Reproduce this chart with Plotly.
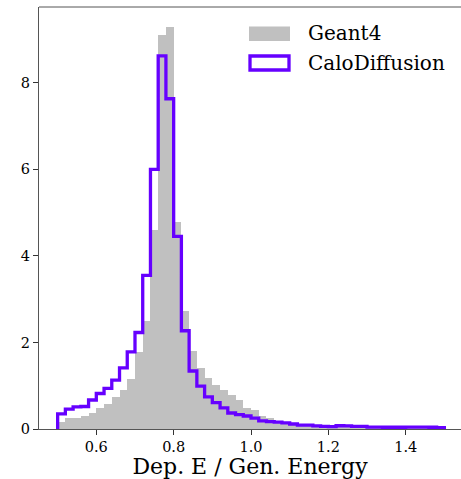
import numpy as np
import plotly.graph_objects as go

# Bin edges: 50 bins of width 0.02 from 0.5 to 1.5
bin_lo = 0.5
bin_width = 0.02
n_bins = 50

geant4 = [0.17, 0.25, 0.25, 0.30, 0.38, 0.49, 0.58, 0.75, 0.90, 1.15,
          1.77, 2.49, 4.59, 9.10, 9.28, 4.78, 2.72, 1.80, 1.42, 1.18,
          1.01, 0.90, 0.78, 0.66, 0.49, 0.43, 0.29, 0.25, 0.15, 0.12,
          0.09, 0.07, 0.06, 0.05, 0.045, 0.04, 0.035, 0.03, 0.03, 0.025,
          0.02, 0.02, 0.018, 0.015, 0.012, 0.012, 0.01, 0.01, 0.008, 0.006]

calodiffusion = [0.35, 0.46, 0.51, 0.52, 0.67, 0.82, 0.94, 1.13, 1.41, 1.78,
                 2.23, 3.55, 6.00, 8.62, 7.63, 4.45, 2.27, 1.34, 0.99, 0.74,
                 0.61, 0.49, 0.37, 0.33, 0.30, 0.25, 0.19, 0.17, 0.16, 0.14,
                 0.115, 0.09, 0.09, 0.07, 0.06, 0.055, 0.075, 0.07, 0.06, 0.06,
                 0.045, 0.045, 0.04, 0.04, 0.04, 0.045, 0.045, 0.045, 0.04, 0.03]

x_ticks = [0.6, 0.8, 1.0, 1.2, 1.4]
x_tick_labels = ["0.6", "0.8", "1.0", "1.2", "1.4"]
y_ticks = [0, 2, 4, 6, 8]
y_tick_labels = ["0", "2", "4", "6", "8"]

edges = bin_lo + bin_width * np.arange(n_bins + 1)
centers = (edges[:-1] + edges[1:]) / 2

FONT = "DejaVu Serif"
PURPLE = "rgb(102,0,255)"
SILVER = "#c0c0c0"

fig = go.Figure()
fig.add_trace(go.Bar(x=centers, y=geant4, width=bin_width,
                     marker=dict(color=SILVER, line=dict(width=0)),
                     name="Geant4", showlegend=False))

step_x = [edges[0]] + list(edges)
step_y = [0] + list(calodiffusion) + [0]
fig.add_trace(go.Scatter(x=step_x, y=step_y, mode="lines",
                         line=dict(color=PURPLE, width=3.3, shape="hv"),
                         name="CaloDiffusion", showlegend=False))

# Legend (drawn manually to mimic matplotlib look)
W, H = 461, 479
ml, mr, mt, mb = 39, 0, 7, 50
pw, ph = W - ml - mr, H - mt - mb
def px(x): return (x - ml) / pw
def py(y): return 1 - (y - mt) / ph

fig.add_shape(type="rect", xref="paper", yref="paper",
              x0=px(249), x1=px(290), y0=py(41), y1=py(26.5),
              fillcolor=SILVER, line=dict(width=0))
fig.add_shape(type="rect", xref="paper", yref="paper",
              x0=px(250), x1=px(289), y0=py(70), y1=py(56),
              fillcolor="rgba(0,0,0,0)", line=dict(color=PURPLE, width=3.3))
fig.add_annotation(xref="paper", yref="paper", x=px(306), y=py(33),
                   text="Geant4", showarrow=False, xanchor="left", yanchor="middle",
                   font=dict(family=FONT, size=20, color="black"))
fig.add_annotation(xref="paper", yref="paper", x=px(306), y=py(63),
                   text="CaloDiffusion", showarrow=False, xanchor="left", yanchor="middle",
                   font=dict(family=FONT, size=20, color="black"))

fig.update_layout(
    width=W, height=H,
    margin=dict(l=ml, r=mr, t=mt, b=mb),
    plot_bgcolor="white", paper_bgcolor="white",
    bargap=0,
    font=dict(family=FONT, color="black"),
    xaxis=dict(range=[0.4518, 1.543], tickvals=x_ticks, ticktext=x_tick_labels,
               ticks="outside", ticklen=5, tickwidth=1, tickcolor="#333",
               showgrid=False, zeroline=False, showline=True, linecolor="#555",
               linewidth=1, mirror=False,
               tickfont=dict(family=FONT, size=14.5, color="black"),
               title=dict(text="Dep. E / Gen. Energy", standoff=3,
                          font=dict(family=FONT, size=22, color="black"))),
    yaxis=dict(range=[0, 9.75], tickvals=y_ticks, ticktext=y_tick_labels,
               ticks="outside", ticklen=5, tickwidth=1, tickcolor="#333",
               showgrid=False, zeroline=False, showline=True, linecolor="#555",
               linewidth=1,
               tickfont=dict(family=FONT, size=14.5, color="black")),
)
# top spine
fig.add_shape(type="line", xref="paper", yref="paper", x0=0, x1=1, y0=1, y1=1,
              line=dict(color="#555", width=1))

fig.write_html("out.html", config={"displayModeBar": False},
               post_script="document.body.style.margin='0';document.body.style.padding='0';document.body.style.overflow='hidden';")
